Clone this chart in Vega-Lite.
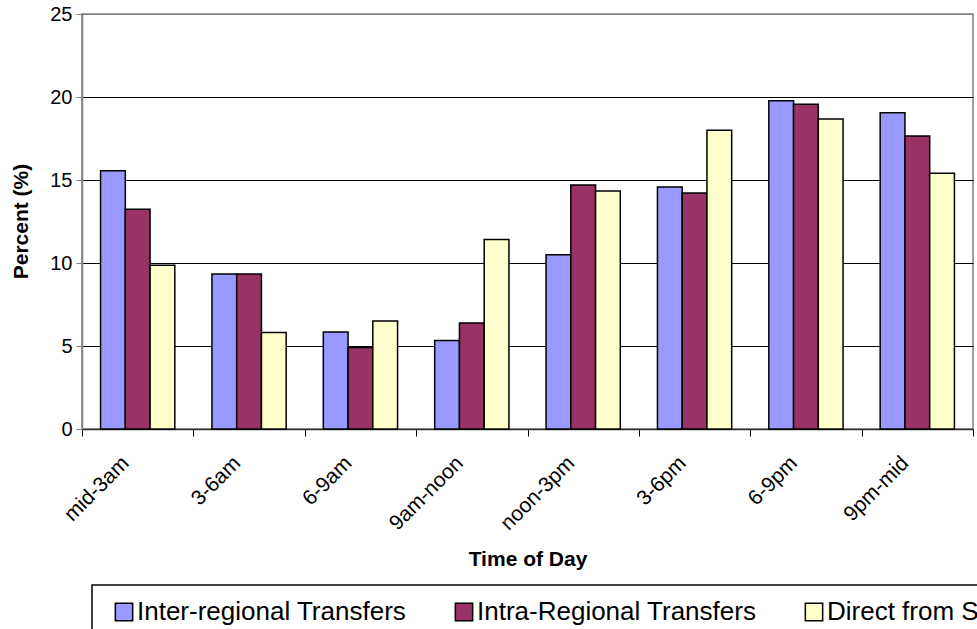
{
  "$schema": "https://vega.github.io/schema/vega-lite/v6.json",
  "width": 891,
  "height": 415,
  "autosize": {"type": "none"},
  "padding": {"left": 82, "top": 14, "right": 4, "bottom": 200},
  "background": "white",
  "config": {
    "font": "Liberation Sans",
    "view": {"stroke": "#808080", "strokeWidth": 1.5}
  },
  "data": {
    "values": [
      {"time": "mid-3am", "series": "Inter-regional Transfers", "value": 15.56},
      {"time": "mid-3am", "series": "Intra-Regional Transfers", "value": 13.24},
      {"time": "mid-3am", "series": "Direct from Scene", "value": 9.87},
      {"time": "3-6am", "series": "Inter-regional Transfers", "value": 9.33},
      {"time": "3-6am", "series": "Intra-Regional Transfers", "value": 9.33},
      {"time": "3-6am", "series": "Direct from Scene", "value": 5.81},
      {"time": "6-9am", "series": "Inter-regional Transfers", "value": 5.85},
      {"time": "6-9am", "series": "Intra-Regional Transfers", "value": 4.91},
      {"time": "6-9am", "series": "Direct from Scene", "value": 6.51},
      {"time": "9am-noon", "series": "Inter-regional Transfers", "value": 5.33},
      {"time": "9am-noon", "series": "Intra-Regional Transfers", "value": 6.39},
      {"time": "9am-noon", "series": "Direct from Scene", "value": 11.42},
      {"time": "noon-3pm", "series": "Inter-regional Transfers", "value": 10.5},
      {"time": "noon-3pm", "series": "Intra-Regional Transfers", "value": 14.7},
      {"time": "noon-3pm", "series": "Direct from Scene", "value": 14.34},
      {"time": "3-6pm", "series": "Inter-regional Transfers", "value": 14.58},
      {"time": "3-6pm", "series": "Intra-Regional Transfers", "value": 14.22},
      {"time": "3-6pm", "series": "Direct from Scene", "value": 17.99},
      {"time": "6-9pm", "series": "Inter-regional Transfers", "value": 19.77},
      {"time": "6-9pm", "series": "Intra-Regional Transfers", "value": 19.57},
      {"time": "6-9pm", "series": "Direct from Scene", "value": 18.67},
      {"time": "9pm-mid", "series": "Inter-regional Transfers", "value": 19.05},
      {"time": "9pm-mid", "series": "Intra-Regional Transfers", "value": 17.65},
      {"time": "9pm-mid", "series": "Direct from Scene", "value": 15.4}
    ]
  },
  "mark": {"type": "bar", "stroke": "black", "strokeWidth": 1.5},
  "encoding": {
    "x": {
      "field": "time",
      "type": "nominal",
      "sort": ["mid-3am", "3-6am", "6-9am", "9am-noon", "noon-3pm", "3-6pm", "6-9pm", "9pm-mid"],
      "scale": {"paddingInner": 0, "paddingOuter": 0},
      "axis": {
        "title": "Time of Day",
        "titleFontSize": 21,
        "titleFontWeight": "bold",
        "titleColor": "black",
        "titleY": 136,
        "titleBaseline": "alphabetic",
        "labelAngle": -45,
        "labelAlign": "right",
        "labelBaseline": "alphabetic",
        "labelFontSize": 21,
        "labelColor": "black",
        "labelPadding": 28,
        "labelOffset": -8,
        "tickBand": "extent",
        "tickSize": 7,
        "tickColor": "black",
        "domainColor": "#303030",
        "domainWidth": 1.5
      }
    },
    "xOffset": {
      "field": "series",
      "sort": ["Inter-regional Transfers", "Intra-Regional Transfers", "Direct from Scene"],
      "scale": {"paddingInner": 0, "paddingOuter": 0.75}
    },
    "y": {
      "field": "value",
      "type": "quantitative",
      "scale": {"domain": [0, 25]},
      "axis": {
        "title": "Percent (%)",
        "titleFontSize": 21,
        "titleFontWeight": "bold",
        "titleColor": "black",
        "titleX": -61,
        "titleY": 207,
        "titleAngle": -90,
        "titleAlign": "center",
        "titleBaseline": "middle",
        "values": [0, 5, 10, 15, 20, 25],
        "labelFontSize": 20,
        "labelColor": "black",
        "labelPadding": 4,
        "tickSize": 6,
        "tickColor": "#808080",
        "domainColor": "#808080",
        "domainWidth": 1.5,
        "grid": true,
        "gridColor": {"condition": {"test": "datum.value == 25", "value": "#808080"}, "value": "black"},
        "gridWidth": 1
      }
    },
    "color": {
      "field": "series",
      "type": "nominal",
      "sort": ["Inter-regional Transfers", "Intra-Regional Transfers", "Direct from Scene"],
      "scale": {
        "domain": ["Inter-regional Transfers", "Intra-Regional Transfers", "Direct from Scene"],
        "range": ["#9999FF", "#993366", "#FFFFCC"]
      },
      "legend": {
        "title": null,
        "orient": "none",
        "legendX": 10,
        "legendY": 571,
        "direction": "horizontal",
        "strokeColor": "black",
        "fillColor": "white",
        "padding": 14,
        "symbolOffset": 5,
        "symbolType": "square",
        "symbolSize": 300,
        "symbolStrokeColor": "black",
        "symbolStrokeWidth": 1.5,
        "labelFontSize": 26,
        "labelColor": "black",
        "labelOffset": 0,
        "labelLimit": 500,
        "columnPadding": 39,
        "encode": {"legend": {"update": {"strokeWidth": {"value": 1.5}}}}
      }
    }
  }
}
